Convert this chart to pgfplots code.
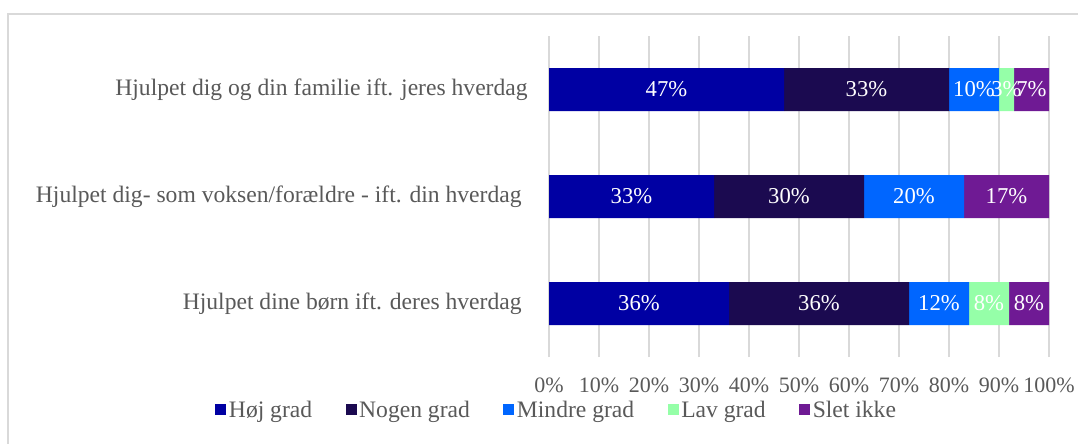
\documentclass[border=0pt]{standalone}
\usepackage{fontspec}
\setmainfont{Liberation Serif}
\usepackage{pgfplots}
\pgfplotsset{compat=1.18}

\definecolor{hoj}{HTML}{0000A3}
\definecolor{nogen}{HTML}{1B0A50}
\definecolor{mindre}{HTML}{0066FF}
\definecolor{lav}{HTML}{95FFA8}
\definecolor{slet}{HTML}{6F1A94}
\definecolor{txt}{HTML}{595959}
\definecolor{gridc}{HTML}{D9D9D9}

\begin{document}
\begin{tikzpicture}
\useasboundingbox (0pt,0pt) rectangle (808.5pt,332.25pt);
\draw[gridc, line width=1.1pt] (6pt,321.75pt) rectangle (840pt,-20pt);
\begin{axis}[
    at={(411.75pt,64.5pt)}, anchor=south west,
    scale only axis,
    width=375pt, height=240.75pt,
    xbar stacked,
    bar width=32.25pt,
    xmin=0, xmax=100,
    ymin=-0.5, ymax=2.5,
    xtick={0,10,...,100},
    xticklabel={\pgfmathprintnumber{\tick}\%},
    ytick={0,1,2},
    yticklabels={Hjulpet dine børn ift. deres hverdag\hspace*{4.5pt},
                 Hjulpet dig- som voksen/forældre - ift. din hverdag\hspace*{4.5pt},
                 Hjulpet dig og din familie ift. jeres hverdag},
    xmajorgrids,
    grid style={gridc, line width=1.1pt},
    axis line style={draw=none},
    major tick style={draw=none},
    tick label style={txt},
    /pgf/number format/assume math mode=true,
    xticklabel style={yshift=-12pt, font=\fontsize{16.5}{19}\selectfont},
    yticklabel style={xshift=-12.5pt, font=\fontsize{17.7}{21}\selectfont},
    point meta=explicit,
    nodes near coords={\pgfmathfloatifflags{\pgfplotspointmeta}{0}{}{\pgfmathprintnumber{\pgfplotspointmeta}\%}},
    every node near coord/.append style={white, font=\fontsize{17}{20}\selectfont},
    legend columns=5,
    legend style={at={(0.016,-0.165)}, anchor=center, draw=none,
        fill=none, text=txt, font=\fontsize{17.7}{21}\selectfont,
        /tikz/every even column/.append style={column sep=23pt}},
    legend image code/.code={\fill[#1] (0pt,-4.1pt) rectangle (8.25pt,4.1pt);},
]
% rows: 0 = boern, 1 = voksen/foraeldre, 2 = familie
\addplot[draw=none, fill=hoj] coordinates {(36,0) [36] (33,1) [33] (47,2) [47]};
\addlegendentry{Høj grad}
\addplot[draw=none, fill=nogen] coordinates {(36,0) [36] (30,1) [30] (33,2) [33]};
\addlegendentry{Nogen grad}
\addplot[draw=none, fill=mindre] coordinates {(12,0) [12] (20,1) [20] (10,2) [10]};
\addlegendentry{Mindre grad}
\addplot[draw=none, fill=lav] coordinates {(8,0) [8] (0,1) [0] (3,2) [3]};
\addlegendentry{Lav grad}
\addplot[draw=none, fill=slet] coordinates {(8,0) [8] (17,1) [17] (7,2) [7]};
\addlegendentry{Slet ikke}
\end{axis}
\end{tikzpicture}
\end{document}
